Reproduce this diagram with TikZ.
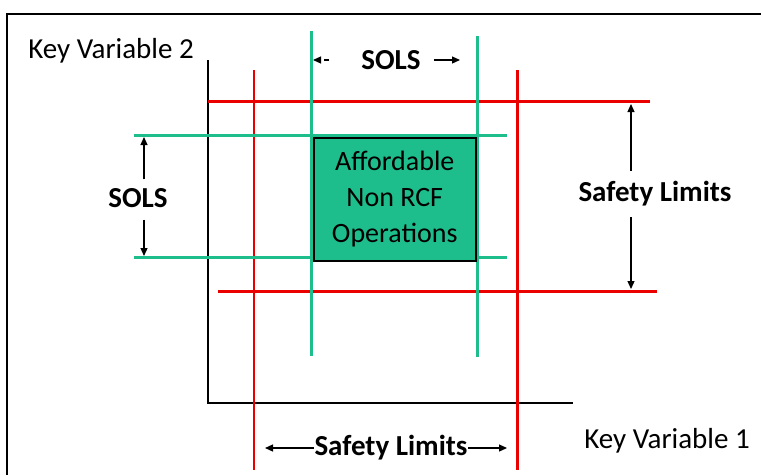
\documentclass[tikz,border=0pt]{standalone}
\usepackage{fontspec}
\setmainfont{Carlito}
\usetikzlibrary{arrows.meta}
\definecolor{solsgreen}{RGB}{30,190,140}
\definecolor{limred}{RGB}{235,0,0}
\tikzset{
  sols/.style={draw=solsgreen, line width=3pt},
  limit/.style={draw=limred, line width=3pt},
  lbl/.style={inner sep=0.75pt, font=\fontsize{29}{34}\selectfont\bfseries},
  axislbl/.style={inner sep=0.75pt, font=\fontsize{29}{34}\selectfont},
  ptr/.style={-{Triangle[length=8pt,width=7pt]}, line width=1.2pt},
}
\begin{document}
\begin{tikzpicture}[x=1pt,y=1pt,yscale=-1,xscale=1]
\useasboundingbox (0,0) rectangle (761,475);
\draw [line width=2pt] (7,475) -- (7,14) -- (761,14) ;
\draw [line width=2.5pt] (208,60) -- (208,403) -- (573,403) ;
\draw [limit, line width=1.5pt] (254,70) -- (254,470) ;
\draw [limit] (517,70) -- (517,470) ;
\draw [limit] (208,101) -- (650,101) ;
\draw [limit] (218,291) -- (657,291) ;
\draw [sols] (311,31) -- (311,356) ;
\draw [sols] (477,36) -- (477,357) ;
\draw [sols] (134,135) -- (507,135) ;
\draw [sols] (134,257) -- (507,257) ;
\node (ops) [draw=black, line width=1.5pt, fill=solsgreen, anchor=north west, minimum width=162, minimum height=123, inner sep=0pt, align=center, font=\fontsize{28}{36}\selectfont] at (313,137) {Affordable\\Non RCF\\Operations};
\node (kv2) [axislbl] at (111,51) {Key Variable 2};
\node (kv1) [axislbl] at (667,441) {Key Variable 1};
\node (solstop) [lbl] at (391,60) {SOLS};
\node (solsleft) [lbl] at (138,198) {SOLS};
\node (limright) [lbl] at (655,194) {Safety Limits};
\node (limbot) [lbl] at (391,448) {Safety Limits};
\coordinate (st1) at (313,60);
\coordinate (st2) at (460,60);
\coordinate (sl1) at (144,137);
\coordinate (sl2) at (144,256);
\coordinate (lr1) at (631,104);
\coordinate (lr2) at (631,289);
\coordinate (lb1) at (265,448);
\coordinate (lb2) at (507,448);
\draw [ptr, dash pattern=on 5pt off 4pt, shorten <=31pt] (solstop.west) -- (st1) ;
\draw [ptr, shorten <=12pt] (solstop.east) -- (st2) ;
\draw [ptr, shorten <=8pt] (solsleft.north -| sl1) -- (sl1) ;
\draw [ptr, shorten <=11pt] (solsleft.south -| sl1) -- (sl2) ;
\draw [ptr, shorten <=10pt] (limright.north -| lr1) -- (lr1) ;
\draw [ptr, shorten <=10pt] (limright.south -| lr1) -- (lr2) ;
\draw [ptr] (limbot.west) -- (lb1) ;
\draw [ptr] (limbot.east) -- (lb2) ;
\end{tikzpicture}
\end{document}
